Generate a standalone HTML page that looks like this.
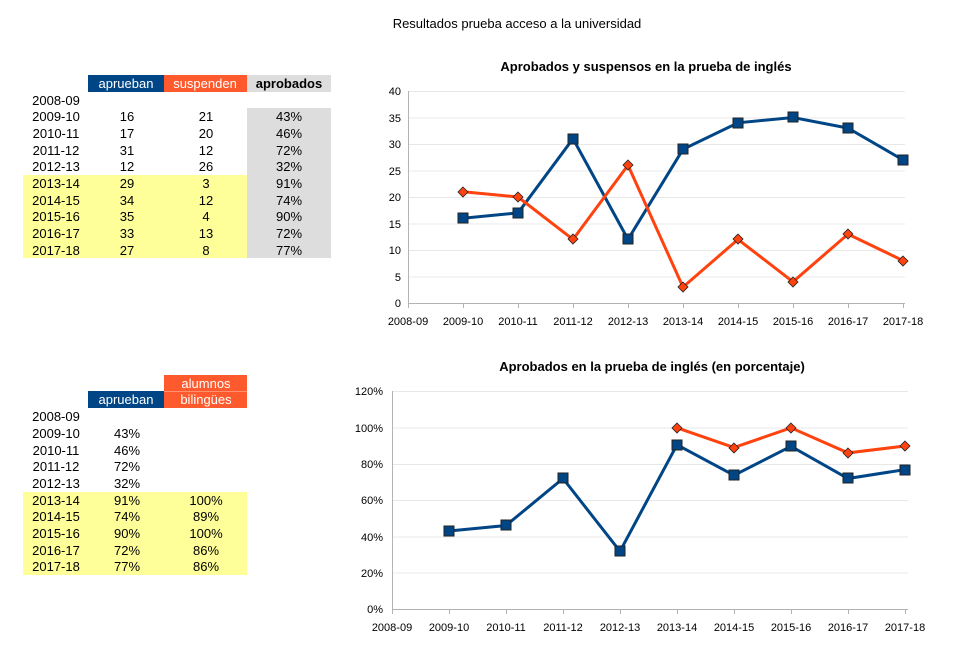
<!DOCTYPE html>
<html><head><meta charset="utf-8"><style>
body{margin:0;background:#fff;}
svg text{font-family:"Liberation Sans",sans-serif;}
</style></head><body>
<svg width="976" height="646" xmlns="http://www.w3.org/2000/svg">
<rect width="976" height="646" fill="#fff"/>
<text x="517" y="28" font-size="13" text-anchor="middle">Resultados prueba acceso a la universidad</text>

<!-- Table 1 -->
<rect x="88" y="75" width="76" height="17" fill="#004586"/>
<rect x="164" y="75" width="83" height="17" fill="#ff5a2d"/>
<rect x="247" y="75" width="84" height="17" fill="#dddddd"/>
<rect x="247" y="108" width="84" height="150" fill="#dddddd"/>
<rect x="23" y="175" width="224" height="83" fill="#ffff99"/>
<g font-size="13">
<text x="126" y="88" text-anchor="middle" fill="#fff">aprueban</text>
<text x="205" y="88" text-anchor="middle" fill="#fff">suspenden</text>
<text x="289" y="88" text-anchor="middle" font-weight="bold">aprobados</text>
</g>
<g font-size="13" text-anchor="middle">
<text x="56" y="105">2008-09</text>
<text x="56" y="121">2009-10</text><text x="127" y="121">16</text><text x="206" y="121">21</text><text x="289" y="121">43%</text>
<text x="56" y="138">2010-11</text><text x="127" y="138">17</text><text x="206" y="138">20</text><text x="289" y="138">46%</text>
<text x="56" y="155">2011-12</text><text x="127" y="155">31</text><text x="206" y="155">12</text><text x="289" y="155">72%</text>
<text x="56" y="171">2012-13</text><text x="127" y="171">12</text><text x="206" y="171">26</text><text x="289" y="171">32%</text>
<text x="56" y="188">2013-14</text><text x="127" y="188">29</text><text x="206" y="188">3</text><text x="289" y="188">91%</text>
<text x="56" y="205">2014-15</text><text x="127" y="205">34</text><text x="206" y="205">12</text><text x="289" y="205">74%</text>
<text x="56" y="221">2015-16</text><text x="127" y="221">35</text><text x="206" y="221">4</text><text x="289" y="221">90%</text>
<text x="56" y="238">2016-17</text><text x="127" y="238">33</text><text x="206" y="238">13</text><text x="289" y="238">72%</text>
<text x="56" y="255">2017-18</text><text x="127" y="255">27</text><text x="206" y="255">8</text><text x="289" y="255">77%</text>
</g>

<!-- Table 2 -->
<rect x="164" y="375" width="83" height="33" fill="#ff5a2d"/>
<line x1="164" y1="391.5" x2="247" y2="391.5" stroke="#ff9070"/>
<rect x="88" y="391" width="76" height="17" fill="#004586"/>
<rect x="23" y="492" width="224" height="83" fill="#ffff99"/>
<g font-size="13" text-anchor="middle" fill="#fff">
<text x="206" y="388">alumnos</text><text x="206" y="404">bilingües</text>
<text x="126" y="404">aprueban</text>
</g>
<g font-size="13" text-anchor="middle">
<text x="56" y="421">2008-09</text>
<text x="56" y="438">2009-10</text><text x="127" y="438">43%</text>
<text x="56" y="455">2010-11</text><text x="127" y="455">46%</text>
<text x="56" y="471">2011-12</text><text x="127" y="471">72%</text>
<text x="56" y="488">2012-13</text><text x="127" y="488">32%</text>
<text x="56" y="505">2013-14</text><text x="127" y="505">91%</text><text x="206" y="505">100%</text>
<text x="56" y="521">2014-15</text><text x="127" y="521">74%</text><text x="206" y="521">89%</text>
<text x="56" y="538">2015-16</text><text x="127" y="538">90%</text><text x="206" y="538">100%</text>
<text x="56" y="555">2016-17</text><text x="127" y="555">72%</text><text x="206" y="555">86%</text>
<text x="56" y="571">2017-18</text><text x="127" y="571">77%</text><text x="206" y="571">86%</text>
</g>

<!-- Chart 1 -->
<text x="646" y="71" font-size="13" font-weight="bold" text-anchor="middle">Aprobados y suspensos en la prueba de inglés</text>
<g stroke="#e8e8e8" stroke-width="1">
<line x1="409" y1="91.5" x2="905" y2="91.5"/><line x1="409" y1="118" x2="905" y2="118"/>
<line x1="409" y1="144.5" x2="905" y2="144.5"/><line x1="409" y1="171" x2="905" y2="171"/>
<line x1="409" y1="197.5" x2="905" y2="197.5"/><line x1="409" y1="224" x2="905" y2="224"/>
<line x1="409" y1="250.5" x2="905" y2="250.5"/><line x1="409" y1="277" x2="905" y2="277"/>
</g>
<line x1="408.5" y1="91" x2="408.5" y2="304" stroke="#b3b3b3"/>
<line x1="408" y1="303.5" x2="905" y2="303.5" stroke="#b3b3b3"/>
<g stroke="#b3b3b3"><line x1="408.5" y1="303" x2="408.5" y2="308"/><line x1="463.5" y1="303" x2="463.5" y2="308"/><line x1="518.5" y1="303" x2="518.5" y2="308"/><line x1="573.5" y1="303" x2="573.5" y2="308"/><line x1="628.5" y1="303" x2="628.5" y2="308"/><line x1="683.5" y1="303" x2="683.5" y2="308"/><line x1="738.5" y1="303" x2="738.5" y2="308"/><line x1="793.5" y1="303" x2="793.5" y2="308"/><line x1="848.5" y1="303" x2="848.5" y2="308"/><line x1="903.5" y1="303" x2="903.5" y2="308"/></g>
<g font-size="11" text-anchor="end">
<text x="401" y="95">40</text><text x="401" y="122">35</text><text x="401" y="148">30</text><text x="401" y="175">25</text><text x="401" y="201">20</text><text x="401" y="228">15</text><text x="401" y="254">10</text><text x="401" y="281">5</text><text x="401" y="307">0</text>
</g>
<g font-size="11" text-anchor="middle">
<text x="408" y="325">2008-09</text><text x="463" y="325">2009-10</text><text x="518" y="325">2010-11</text><text x="573" y="325">2011-12</text><text x="628" y="325">2012-13</text><text x="683" y="325">2013-14</text><text x="738" y="325">2014-15</text><text x="793" y="325">2015-16</text><text x="848" y="325">2016-17</text><text x="903" y="325">2017-18</text>
</g>
<polyline fill="none" stroke="#004586" stroke-width="3" points="463,218.2 518,212.9 573,138.7 628,239.4 683,149.3 738,122.8 793,117.5 848,128.1 903,159.9"/>
<polyline fill="none" stroke="#ff420e" stroke-width="3" points="463,191.7 518,197 573,239.4 628,165.2 683,287.1 738,239.4 793,281.8 848,234.1 903,260.6"/>
<g fill="#004586" stroke="#222" stroke-width="1">
<rect x="458" y="213" width="10" height="10"/><rect x="513" y="208" width="10" height="10"/><rect x="568" y="134" width="10" height="10"/><rect x="623" y="234" width="10" height="10"/><rect x="678" y="144" width="10" height="10"/><rect x="733" y="118" width="10" height="10"/><rect x="788" y="112" width="10" height="10"/><rect x="843" y="123" width="10" height="10"/><rect x="898" y="155" width="10" height="10"/>
</g>
<g fill="#ff420e" stroke="#222" stroke-width="0.8">
<path d="M463 187l5 5-5 5-5-5z"/><path d="M518 192l5 5-5 5-5-5z"/><path d="M573 234l5 5-5 5-5-5z"/><path d="M628 160l5 5-5 5-5-5z"/><path d="M683 282l5 5-5 5-5-5z"/><path d="M738 234l5 5-5 5-5-5z"/><path d="M793 277l5 5-5 5-5-5z"/><path d="M848 229l5 5-5 5-5-5z"/><path d="M903 256l5 5-5 5-5-5z"/>
</g>

<!-- Chart 2 -->
<text x="652" y="371" font-size="13" font-weight="bold" text-anchor="middle">Aprobados en la prueba de inglés (en porcentaje)</text>
<g stroke="#e8e8e8">
<line x1="393" y1="391.5" x2="908" y2="391.5"/><line x1="393" y1="428" x2="908" y2="428"/><line x1="393" y1="464.5" x2="908" y2="464.5"/><line x1="393" y1="500.5" x2="908" y2="500.5"/><line x1="393" y1="537" x2="908" y2="537"/><line x1="393" y1="573" x2="908" y2="573"/>
</g>
<line x1="392.5" y1="391" x2="392.5" y2="610" stroke="#b3b3b3"/>
<line x1="392" y1="609.5" x2="908" y2="609.5" stroke="#b3b3b3"/>
<g stroke="#b3b3b3"><line x1="392.5" y1="609" x2="392.5" y2="614"/><line x1="449.5" y1="609" x2="449.5" y2="614"/><line x1="506.5" y1="609" x2="506.5" y2="614"/><line x1="563.5" y1="609" x2="563.5" y2="614"/><line x1="620.5" y1="609" x2="620.5" y2="614"/><line x1="677.5" y1="609" x2="677.5" y2="614"/><line x1="734.5" y1="609" x2="734.5" y2="614"/><line x1="791.5" y1="609" x2="791.5" y2="614"/><line x1="848.5" y1="609" x2="848.5" y2="614"/><line x1="905.5" y1="609" x2="905.5" y2="614"/></g>
<g font-size="11" text-anchor="end">
<text x="383" y="395">120%</text><text x="383" y="432">100%</text><text x="383" y="468">80%</text><text x="383" y="504">60%</text><text x="383" y="541">40%</text><text x="383" y="577">20%</text><text x="383" y="613">0%</text>
</g>
<g font-size="11" text-anchor="middle">
<text x="392" y="631">2008-09</text><text x="449" y="631">2009-10</text><text x="506" y="631">2010-11</text><text x="563" y="631">2011-12</text><text x="620" y="631">2012-13</text><text x="677" y="631">2013-14</text><text x="734" y="631">2014-15</text><text x="791" y="631">2015-16</text><text x="848" y="631">2016-17</text><text x="905" y="631">2017-18</text>
</g>
<polyline fill="none" stroke="#004586" stroke-width="3" points="449,531 506,525.5 563,478.5 620,551.3 677,444.8 734,475.3 791,446.3 848,478.5 905,469.6"/>
<polyline fill="none" stroke="#ff420e" stroke-width="3" points="677,427.8 734,447.5 791,427.8 848,452.9 905,446"/>
<g fill="#004586" stroke="#222" stroke-width="1">
<rect x="444" y="526" width="10" height="10"/><rect x="501" y="520" width="10" height="10"/><rect x="558" y="473" width="10" height="10"/><rect x="615" y="546" width="10" height="10"/><rect x="672" y="440" width="10" height="10"/><rect x="729" y="470" width="10" height="10"/><rect x="786" y="441" width="10" height="10"/><rect x="843" y="473" width="10" height="10"/><rect x="900" y="465" width="10" height="10"/>
</g>
<g fill="#ff420e" stroke="#222" stroke-width="0.8">
<path d="M677 423l5 5-5 5-5-5z"/><path d="M734 443l5 5-5 5-5-5z"/><path d="M791 423l5 5-5 5-5-5z"/><path d="M848 448l5 5-5 5-5-5z"/><path d="M905 441l5 5-5 5-5-5z"/>
</g>
</svg>
</body></html>
